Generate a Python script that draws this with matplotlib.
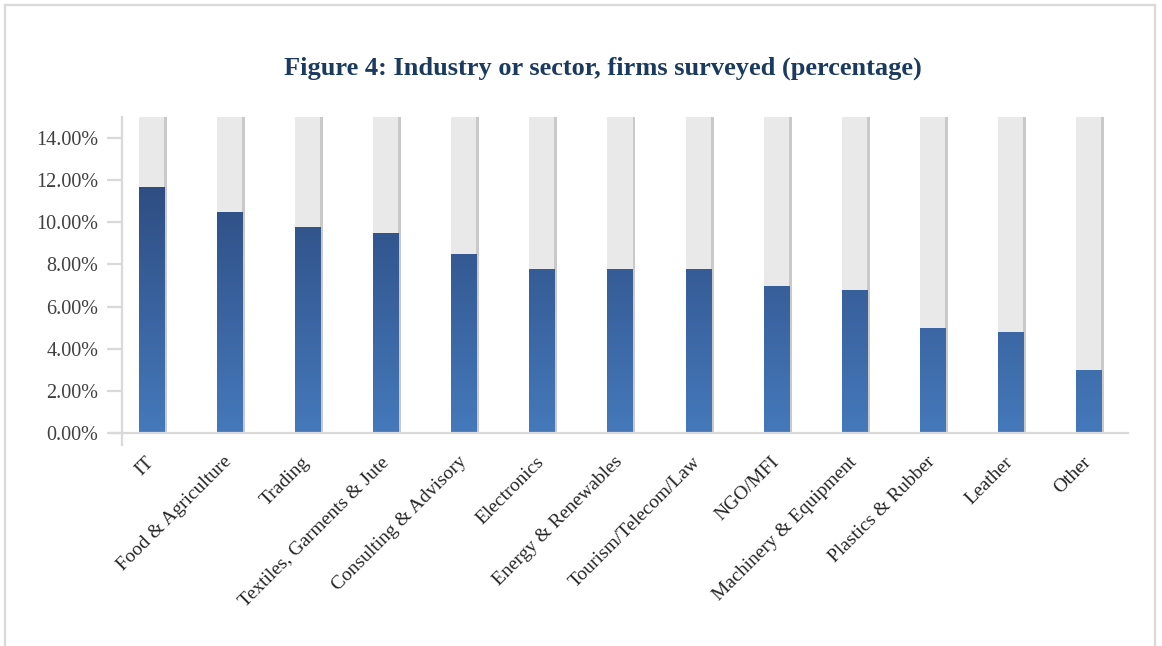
import numpy as np
import matplotlib
matplotlib.use("Agg")
import matplotlib.pyplot as plt
from matplotlib.colors import LinearSegmentedColormap
from matplotlib.patches import Rectangle
from matplotlib.lines import Line2D
from matplotlib.ticker import FuncFormatter

# Share of surveyed firms by industry / sector (%)
sectors = ["IT", "Food & Agriculture", "Trading", "Textiles, Garments & Jute",
           "Consulting & Advisory", "Electronics", "Energy & Renewables",
           "Tourism/Telecom/Law", "NGO/MFI", "Machinery & Equipment",
           "Plastics & Rubber", "Leather", "Other"]
shares = [11.7, 10.5, 9.8, 9.5, 8.5, 7.8, 7.8, 7.8, 7.0, 6.8, 5.0, 4.8, 3.0]
y_ticks = [0, 2, 4, 6, 8, 10, 12, 14]

title = "Figure 4: Industry or sector, firms surveyed (percentage)"

plt.rcParams['font.family'] = ['Liberation Serif', 'DejaVu Serif']

fig = plt.figure(figsize=(11.62, 6.46), dpi=100)
ax = fig.add_axes([112 / 1162, 1 - 433 / 646, 1016 / 1162, 316 / 646])

y_max = 15
bar_w = 0.32
shadow_dx = 0.038
x = np.arange(len(sectors))

# vertical gradient for the filled part, fixed to the y scale
blues = LinearSegmentedColormap.from_list("blues", ["#4579bb", "#2d4b80"])
grad = np.linspace(0, 1, 256).reshape(-1, 1) * (y_max / 12.3)
grad = np.clip(grad, 0, 1)

for xi, val in zip(x, shares):
    left = xi - bar_w / 2
    # shadow strip and empty track
    ax.add_patch(Rectangle((left + shadow_dx, 0), bar_w, y_max,
                           facecolor="#c9c9c9", edgecolor="none", zorder=1))
    ax.add_patch(Rectangle((left, 0), bar_w, y_max,
                           facecolor="#e9e9e9", edgecolor="none", zorder=2))
    clip = Rectangle((left, 0), bar_w, val, facecolor="none",
                     edgecolor="none", transform=ax.transData)
    ax.add_patch(clip)
    im = ax.imshow(grad, cmap=blues, vmin=0, vmax=1, origin="lower",
                   extent=[left, left + bar_w, 0, y_max], aspect="auto",
                   zorder=3, interpolation="bilinear")
    im.set_clip_path(clip)

ax.set_xlim(-0.5, len(sectors) - 0.5)
ax.set_ylim(0, y_max)

# axes styling
axis_col = "#d9d9d9"
for side in ["top", "right"]:
    ax.spines[side].set_visible(False)
ax.spines["bottom"].set_color(axis_col)
ax.spines["bottom"].set_linewidth(1.6)
ax.spines["bottom"].set_zorder(4)
ax.spines["left"].set_position(("data", -0.372))
ax.spines["left"].set_color(axis_col)
ax.spines["left"].set_linewidth(1.6)
ax.spines["left"].set_bounds(-0.58, y_max)

ax.set_yticks(y_ticks)
ax.yaxis.set_major_formatter(FuncFormatter(lambda v, p: f"{v:.2f}%"))
ax.tick_params(axis="y", length=11, width=1.6, color=axis_col, pad=6,
               labelsize=14.5, labelcolor="#404040")
ax.set_xticks(x)
ax.set_xticklabels(sectors, rotation=45, ha="right", va="center",
                   rotation_mode="anchor")
ax.tick_params(axis="x", length=0, pad=19, labelsize=14,
               labelcolor="#262626")

fig.text(603 / 1162, 1 - 68 / 646, title, ha="center", va="center",
         fontsize=19, fontweight="bold", color="#1b3a5f")

# outer chart frame
frame_col = "#d9d9d9"
for xs, ys in [([5, 5], [646, 5]), ([5, 1155], [5, 5]), ([1155, 1155], [5, 646])]:
    fig.add_artist(Line2D([v / 1162 for v in xs], [1 - v / 646 for v in ys],
                          color=frame_col, linewidth=1.6,
                          transform=fig.transFigure))

fig.savefig("out.png", dpi=100, facecolor="white")
